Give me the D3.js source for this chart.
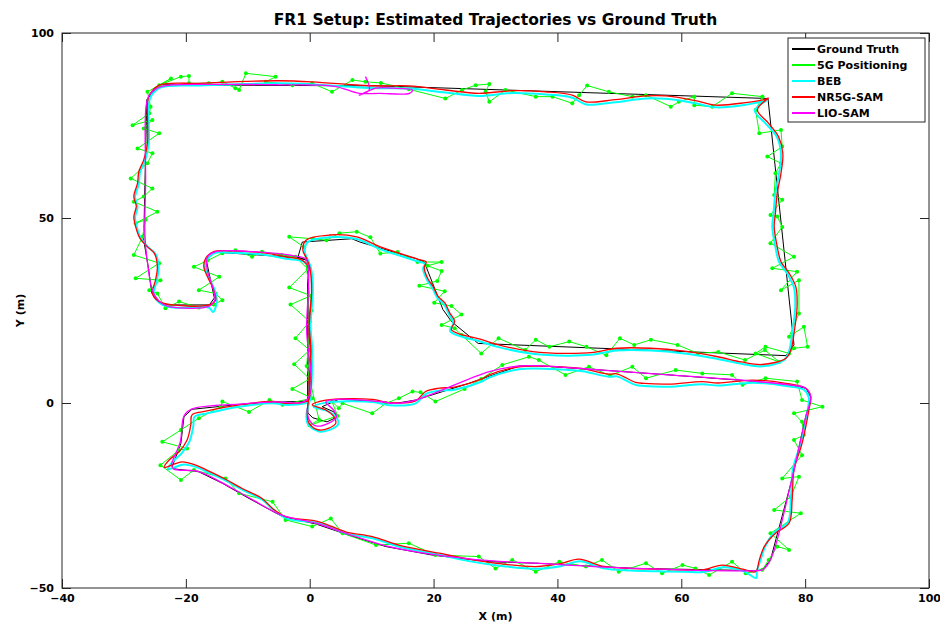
<!DOCTYPE html>
<html>
<head>
<meta charset="utf-8">
<script src="https://cdn.jsdelivr.net/npm/d3@7"></script>
<style>
  body { margin: 0; background: #ffffff; }
  text { font-family: "DejaVu Sans", sans-serif; font-weight: bold; fill: #000; }
</style>
</head>
<body>
<div id="chart"></div>
<script>
// Axis ticks
const xTicks = [-40, -20, 0, 20, 40, 60, 80, 100];
const yTicks = [-50, 0, 50, 100];

// Legend entries (plot order)
const seriesNames = ["Ground Truth", "5G Positioning", "BEB", "NR5G-SAM", "LIO-SAM"];
const seriesColors = ["#000000", "#00ff00", "#00ffff", "#ff0000", "#ff00ff"];

// Ground truth path [x, y] in metres
const groundTruth = [
  [74.0, 82.3], [11.2, 85.7], [-24.3, 86.0], [-26.3, 82.0], [-26.6, 60.0], [-26.8, 44.0],
  [-26.0, 36.0], [-25.5, 29.7], [-23.8, 26.5], [-16.2, 26.5], [-15.4, 28.4], [-16.7, 38.6],
  [-15.4, 40.8], [-1.9, 39.3], [-0.3, 38.5], [-0.3, 0.5], [-6.0, 0.2], [-11.4, -0.4],
  [-19.0, -1.7], [-20.3, -3.7], [-20.8, -10.9], [-22.2, -17.2], [-21.9, -17.8], [-17.9, -18.6],
  [-14.1, -21.7], [-9.8, -25.8], [-4.4, -30.7], [1.0, -32.7], [6.3, -35.7], [12.3, -38.8],
  [19.8, -41.1], [29.0, -42.9], [36.5, -43.3], [52.6, -44.7], [72.0, -45.3], [73.1, -45.1],
  [74.4, -42.4], [77.7, -21.7], [80.1, -3.7], [80.9, 1.7], [80.1, 4.0], [77.4, 4.9],
  [71.5, 5.9], [58.0, 7.6], [47.2, 8.9], [36.5, 10.1], [33.8, 10.0], [25.7, 5.3],
  [17.1, 0.8], [13.9, -0.1], [11.2, 0.4], [4.7, 1.0], [2.0, -1.0], [3.9, -2.4],
  [4.4, -3.8], [2.8, -5.1], [0.5, -4.0], [-0.3, -2.7], [-0.3, 38.5], [-1.9, 39.4],
  [-1.2, 43.5], [6.8, 44.4], [8.1, 43.5], [17.4, 38.9], [18.5, 38.1], [21.5, 25.3],
  [22.9, 22.0], [27.2, 16.1], [76.9, 12.8], [78.2, 15.7], [74.0, 82.3]
];

// 5G positioning fixes
const fiveG = [
  [73.1, 82.8], [68.2, 83.7], [65.0, 80.1], [62.1, 80.5], [62.1, 82.8], [59.6, 81.4],
  [58.3, 80.1], [54.3, 83.2], [52.1, 82.8], [48.3, 84.1], [44.8, 85.8], [43.5, 83.2],
  [42.4, 81.0], [39.2, 82.8], [36.5, 82.8], [31.6, 84.6], [29.0, 81.4], [28.4, 84.1],
  [29.0, 86.2], [26.8, 85.9], [24.6, 84.6], [21.9, 82.3], [16.0, 84.8], [11.5, 86.5],
  [9.0, 86.8], [6.9, 87.3], [3.6, 84.1], [0.4, 86.4], [-2.8, 85.9], [-7.1, 86.8],
  [-5.5, 88.2], [-10.3, 89.1], [-11.4, 84.6], [-12.0, 85.1], [-14.1, 86.8], [-16.3, 86.4],
  [-19.5, 86.4], [-19.5, 88.4], [-20.8, 88.2], [-24.3, 85.9], [-22.4, 87.7], [-26.2, 84.1],
  [-25.7, 80.1], [-25.9, 78.3], [-28.6, 75.1], [-25.4, 76.5], [-26.8, 74.2], [-24.3, 72.9],
  [-27.8, 68.8], [-25.4, 67.5], [-26.2, 64.8], [-28.9, 60.7], [-25.4, 58.0], [-26.8, 55.8],
  [-28.4, 54.4], [-24.6, 51.7], [-28.1, 48.6], [-26.5, 49.5], [-27.0, 44.9], [-28.4, 40.0],
  [-24.3, 37.8], [-28.1, 33.7], [-24.1, 33.2], [-25.9, 30.5], [-24.6, 29.6], [-23.3, 25.6],
  [-21.1, 27.4], [-17.9, 25.8], [-15.5, 26.6], [-14.1, 27.8], [-15.2, 29.6], [-17.9, 30.5],
  [-14.6, 34.1], [-18.7, 36.8], [-16.5, 38.5], [-14.1, 40.5], [-12.0, 41.3], [-9.3, 39.5],
  [-7.7, 40.9], [-4.5, 40.0], [-2.3, 39.5], [-0.3, 36.2], [-3.3, 31.2], [0.2, 29.0],
  [-3.1, 26.6], [0.0, 22.0], [-2.3, 17.5], [0.0, 14.3], [-2.5, 10.5], [0.0, 6.5],
  [-2.8, 3.8], [0.4, 1.3], [-4.4, -0.5], [-6.5, 0.8], [-9.8, -2.4], [-14.1, 0.4],
  [-14.4, -1.0], [-17.9, -4.1], [-20.8, -7.3], [-23.8, -10.5], [-19.8, -12.3], [-21.1, -12.7],
  [-24.1, -16.8], [-20.8, -20.8], [-18.7, -18.1], [-13.6, -20.4], [-11.4, -24.4], [-6.0, -26.7],
  [-3.9, -31.6], [0.4, -33.4], [3.4, -31.2], [5.3, -35.2], [10.7, -38.4], [16.0, -37.9],
  [20.3, -41.1], [27.3, -41.5], [30.0, -44.7], [32.7, -42.4], [36.5, -45.6], [40.3, -42.9],
  [44.6, -44.2], [47.2, -42.4], [49.9, -45.6], [54.3, -43.3], [56.9, -46.0], [60.2, -43.8],
  [62.3, -44.7], [64.5, -46.5], [68.2, -42.9], [70.4, -46.0], [73.1, -45.1], [74.1, -42.4],
  [75.5, -38.8], [77.4, -39.7], [74.4, -35.2], [79.3, -29.8], [75.0, -28.9], [77.7, -25.3],
  [79.0, -19.9], [76.3, -20.4], [79.5, -14.1], [78.2, -10.0], [79.8, -8.6], [79.5, -5.1],
  [78.2, -2.8], [82.8, -1.0], [79.5, 0.8], [78.7, 5.8], [73.6, 6.7], [69.9, 4.9],
  [68.2, 7.6], [63.4, 8.0], [59.1, 8.9], [54.3, 6.7], [52.1, 9.8], [48.5, 7.4],
  [45.1, 9.8], [41.3, 7.6], [37.0, 11.6], [35.4, 12.5], [31.1, 10.3], [27.7, 6.5],
  [25.0, 3.8], [20.3, 0.4], [17.9, 2.9], [16.6, 3.1], [14.4, 1.3], [12.3, -0.1],
  [10.1, -2.8], [5.3, -0.1], [4.7, -1.4], [3.6, 0.4], [4.5, -3.5], [0.0, -6.0],
  [1.5, -4.5], [-0.5, 10.0], [0.3, 25.0], [-0.9, 42.1], [-3.3, 44.9], [0.5, 44.4],
  [2.7, 44.0], [4.8, 45.9], [7.6, 46.3], [9.8, 44.8], [11.4, 40.4], [14.2, 40.8],
  [17.4, 38.1], [21.3, 38.1], [19.0, 37.1], [21.3, 35.7], [20.6, 33.0], [17.7, 31.7],
  [21.8, 30.2], [20.1, 27.1], [22.9, 26.2], [24.5, 23.9], [21.3, 21.1], [23.4, 20.2],
  [24.5, 18.4], [27.7, 13.4], [30.5, 17.5], [34.8, 14.3], [36.5, 17.1], [38.7, 15.2],
  [41.9, 16.6], [44.7, 15.2], [47.9, 12.9], [50.1, 17.5], [52.4, 15.7], [55.1, 17.1],
  [59.4, 15.7], [62.7, 13.4], [66.0, 13.8], [70.3, 11.6], [73.5, 14.3], [75.8, 11.1],
  [72.0, 13.4], [73.6, 15.2], [77.4, 13.4], [78.2, 14.8], [80.4, 15.2], [79.8, 20.6],
  [77.4, 17.9], [79.0, 24.2], [79.0, 33.2], [76.1, 30.5], [78.7, 35.5], [74.7, 36.4],
  [78.2, 39.5], [74.4, 43.2], [76.3, 47.6], [75.5, 50.4], [74.4, 50.8], [76.3, 54.9],
  [75.0, 56.2], [75.2, 62.1], [76.1, 64.8], [73.9, 66.6], [76.3, 69.3], [76.1, 73.8],
  [72.6, 72.9], [72.0, 79.2], [73.1, 82.8]
];

// BEB estimate
const beb = [
  [73.8, 81.8], [70.4, 80.6], [65.6, 79.9], [62.3, 81.0], [57.5, 82.2], [54.3, 82.3],
  [48.9, 81.2], [44.6, 80.7], [42.4, 82.5], [38.1, 83.4], [32.7, 83.8], [27.3, 83.0],
  [21.9, 83.9], [16.0, 85.0], [11.2, 85.1], [8.0, 85.3], [0.4, 86.1], [-5.0, 86.4],
  [-12.5, 86.1], [-17.9, 85.8], [-24.0, 85.3], [-25.6, 83.0], [-26.0, 80.5], [-26.0, 70.0],
  [-26.6, 65.5], [-27.4, 62.3], [-27.6, 59.2], [-28.2, 55.6], [-27.8, 53.0], [-28.2, 50.2],
  [-27.9, 47.4], [-27.2, 44.3], [-26.0, 42.0], [-24.9, 40.3], [-24.4, 36.6], [-24.7, 33.0],
  [-25.2, 29.2], [-24.0, 26.8], [-22.0, 25.8], [-16.3, 25.8], [-15.6, 24.6], [-15.0, 27.5],
  [-15.3, 30.3], [-16.3, 34.0], [-16.9, 36.6], [-16.6, 38.8], [-15.3, 40.5], [-12.5, 40.6],
  [-7.1, 40.0], [-3.9, 39.0], [-1.0, 38.2], [0.2, 35.8], [0.5, 30.0], [0.1, 22.0],
  [0.4, 14.0], [0.1, 6.2], [0.0, 0.6], [-3.3, -0.5], [-6.0, -0.1], [-11.4, -1.0],
  [-16.6, -2.8], [-18.6, -3.7], [-18.8, -6.2], [-19.4, -10.3], [-20.7, -13.6], [-22.2, -16.0],
  [-22.9, -17.9], [-20.3, -16.6], [-18.2, -17.4], [-16.6, -18.6], [-13.4, -21.1], [-10.7, -23.6],
  [-7.5, -26.3], [-5.8, -29.0], [-3.7, -31.2], [1.7, -32.6], [6.0, -35.3], [10.3, -36.6],
  [14.6, -38.9], [21.1, -41.1], [25.9, -42.8], [31.3, -44.1], [36.7, -44.8], [40.5, -44.1],
  [43.7, -42.8], [47.4, -44.7], [51.8, -45.3], [56.1, -45.5], [60.4, -45.6], [63.6, -45.7],
  [66.8, -44.4], [70.1, -45.5], [72.1, -47.3], [72.2, -45.6], [72.8, -42.4], [73.6, -38.6],
  [75.0, -35.0], [77.2, -32.3], [77.7, -26.0], [78.0, -18.0], [79.3, -10.8], [80.4, -1.9],
  [80.6, 1.5], [79.8, 3.6], [76.9, 4.6], [71.5, 5.5], [65.9, 4.7], [63.4, 5.1],
  [58.0, 4.4], [54.0, 4.6], [52.6, 4.9], [49.6, 7.2], [48.3, 7.1], [44.1, 8.6],
  [41.9, 8.9], [38.7, 9.2], [33.8, 9.1], [29.0, 6.9], [27.8, 5.8], [23.4, 3.6],
  [20.9, 3.3], [18.7, 2.4], [17.1, -0.1], [12.8, -0.6], [10.1, 0.3], [2.6, 0.1],
  [0.6, -1.0], [2.9, -2.2], [4.3, -3.9], [4.6, -5.7], [3.3, -7.2], [1.5, -7.7],
  [-0.3, -5.7], [-0.5, -2.8], [0.0, 0.8], [0.4, 10.0], [0.1, 20.0], [0.5, 30.0],
  [0.2, 36.5], [-0.4, 39.0], [-0.8, 41.0], [-0.4, 43.4], [3.2, 44.8], [7.6, 44.3],
  [11.4, 41.6], [17.4, 38.3], [18.6, 37.6], [18.3, 36.4], [19.0, 33.1], [19.8, 31.1],
  [20.6, 28.5], [21.7, 26.6], [22.5, 24.0], [23.2, 21.6], [22.7, 19.4], [27.8, 16.5],
  [30.5, 15.1], [36.0, 13.3], [41.4, 12.8], [45.8, 13.1], [49.6, 14.2], [55.0, 14.2],
  [60.5, 13.4], [65.9, 11.9], [69.7, 10.6], [73.0, 9.9], [76.6, 11.6], [77.4, 14.0],
  [77.9, 18.8], [78.4, 26.0], [78.2, 31.2], [77.1, 35.0], [75.8, 38.1], [75.2, 42.2],
  [74.7, 47.6], [74.9, 51.3], [75.2, 56.7], [75.8, 62.1], [76.1, 67.5], [75.4, 72.0],
  [73.6, 75.6], [71.9, 79.0], [73.8, 81.8]
];

// NR5G-SAM estimate
const nr5gSam = [
  [74.1, 82.4], [73.6, 82.1], [70.4, 81.2], [65.6, 80.5], [62.3, 81.7], [57.5, 83.0],
  [54.3, 83.0], [48.9, 81.9], [44.6, 81.4], [42.4, 83.2], [38.1, 84.1], [32.7, 84.4],
  [27.3, 83.7], [21.9, 84.6], [16.0, 85.7], [11.2, 85.7], [8.0, 85.9], [0.4, 86.8],
  [-5.0, 87.1], [-12.5, 86.8], [-17.9, 86.4], [-24.3, 85.9], [-25.9, 83.2], [-26.2, 81.0],
  [-26.2, 70.2], [-26.8, 65.7], [-27.6, 62.5], [-27.8, 59.4], [-28.4, 55.8], [-28.0, 53.2],
  [-28.4, 50.4], [-28.1, 47.6], [-27.4, 44.5], [-26.2, 42.2], [-25.1, 40.5], [-24.6, 36.8],
  [-24.9, 33.2], [-25.4, 29.6], [-24.3, 27.4], [-22.2, 26.5], [-16.3, 26.5], [-15.2, 27.8],
  [-15.5, 30.5], [-16.5, 34.1], [-17.1, 36.8], [-16.8, 39.1], [-15.5, 40.9], [-12.5, 41.1],
  [-7.1, 40.5], [-3.9, 39.5], [-1.2, 38.6], [0.0, 36.0], [0.3, 30.0], [-0.1, 22.0],
  [0.2, 14.0], [-0.1, 6.2], [-0.2, 0.8], [-3.3, -0.1], [-6.0, 0.4], [-11.4, -0.5],
  [-16.8, -2.2], [-19.0, -3.2], [-19.2, -5.9], [-19.8, -10.0], [-21.1, -13.2], [-22.7, -15.4],
  [-23.5, -17.4], [-20.6, -15.9], [-18.4, -16.8], [-16.8, -18.0], [-13.6, -20.6], [-10.9, -23.1],
  [-7.7, -25.8], [-6.0, -28.5], [-3.9, -30.7], [1.5, -32.1], [5.8, -34.8], [10.1, -36.1],
  [14.4, -38.4], [20.9, -40.6], [25.7, -42.2], [31.1, -43.5], [36.5, -44.2], [40.3, -43.5],
  [43.5, -42.2], [47.2, -44.1], [51.6, -44.7], [55.9, -44.9], [60.2, -45.1], [63.4, -45.1],
  [66.6, -43.8], [69.9, -44.9], [72.0, -45.6], [72.6, -42.4], [73.4, -38.8], [75.2, -35.2],
  [77.4, -32.5], [77.9, -26.2], [78.2, -18.1], [79.5, -10.9], [80.6, -1.9], [80.9, 1.7],
  [80.1, 4.0], [76.9, 5.3], [71.5, 6.2], [65.9, 5.4], [63.4, 5.8], [58.0, 5.1],
  [54.0, 5.3], [52.6, 5.6], [49.6, 7.9], [48.3, 7.8], [44.1, 9.3], [41.9, 9.6],
  [38.7, 9.9], [33.8, 9.8], [29.0, 7.6], [27.8, 6.5], [23.4, 4.3], [20.9, 4.0],
  [18.7, 3.1], [17.1, 0.6], [12.8, 0.1], [10.1, 1.0], [2.6, 0.8], [0.4, -0.5],
  [2.6, -1.9], [3.9, -3.7], [4.2, -5.5], [3.1, -6.8], [1.5, -7.3], [-0.1, -5.5],
  [-0.4, -2.8], [-0.2, 0.8], [0.2, 10.0], [-0.1, 20.0], [0.3, 30.0], [0.0, 36.7],
  [-0.6, 39.4], [-1.1, 41.2], [-0.6, 44.0], [3.2, 45.4], [7.6, 44.9], [11.4, 42.2],
  [17.4, 38.9], [18.8, 38.1], [18.5, 36.7], [19.1, 33.5], [19.9, 31.6], [20.7, 28.9],
  [21.8, 27.1], [22.6, 24.4], [23.4, 22.1], [22.9, 19.8], [27.8, 17.1], [30.5, 15.7],
  [36.0, 13.9], [41.4, 13.4], [45.8, 13.7], [49.6, 14.8], [55.0, 14.8], [60.5, 14.0],
  [65.9, 12.5], [69.7, 11.1], [73.0, 10.4], [76.9, 12.1], [77.7, 14.3], [78.2, 18.8],
  [78.7, 26.0], [78.5, 31.4], [77.4, 35.1], [76.1, 38.2], [75.5, 42.2], [75.0, 47.6],
  [75.2, 51.3], [75.5, 56.7], [76.1, 62.1], [76.4, 67.5], [75.7, 72.0], [74.1, 75.6],
  [72.3, 79.2], [74.1, 82.4]
];

// LIO-SAM estimate
const lioSam = [
  [9.0, 88.2], [9.6, 84.6], [8.0, 83.2], [10.7, 85.1], [13.3, 85.1], [16.6, 84.6],
  [16.1, 83.7], [11.2, 83.7], [8.0, 83.7], [4.0, 85.6], [-5.0, 86.0], [-15.0, 86.1],
  [-24.0, 85.5], [-25.8, 83.5], [-26.4, 80.5], [-26.5, 60.0], [-26.6, 45.0], [-26.2, 38.0],
  [-25.3, 30.0], [-23.8, 26.8], [-22.5, 26.0], [-16.3, 26.1], [-15.3, 28.0], [-16.6, 36.5],
  [-16.5, 39.5], [-15.2, 40.9], [-10.0, 41.0], [-2.0, 39.6], [-0.6, 38.8], [-0.5, 20.0],
  [-0.4, 1.0], [-6.0, 0.3], [-11.4, -0.3], [-19.0, -1.6], [-20.3, -3.5], [-20.9, -10.5],
  [-22.3, -16.7], [-22.0, -17.8], [-18.0, -18.5], [-14.1, -21.6], [-9.8, -25.6], [-4.4, -30.4],
  [1.0, -32.5], [6.3, -35.5], [12.3, -38.6], [19.8, -40.9], [29.0, -42.6], [36.5, -43.3],
  [52.6, -44.7], [72.0, -45.3], [73.1, -45.1], [74.4, -42.4], [77.7, -21.7], [80.1, -3.7],
  [80.9, 1.7], [80.1, 4.0], [77.4, 4.9], [71.5, 5.9], [58.0, 7.6], [47.2, 8.9],
  [36.5, 10.1], [33.8, 10.0], [29.0, 8.5], [17.1, 0.8], [13.9, -0.1], [11.2, 0.4],
  [4.7, 1.0], [2.6, 0.3], [3.9, -2.0], [4.3, -3.8], [3.0, -5.5], [1.0, -6.2],
  [-0.1, -4.5], [-0.4, -1.5]
];

const seriesData = [groundTruth, fiveG, beb, nr5gSam, lioSam];
const seriesWidths = [1, 1, 2, 1.3, 1.3];

// Dimensions and margins
const margin = { top: 33, right: 11, bottom: 35, left: 62 };
const width = 940 - margin.left - margin.right;
const height = 623 - margin.top - margin.bottom;

const svg = d3.select("#chart")
  .append("svg")
  .attr("width", 940)
  .attr("height", 623)
  .append("g")
  .attr("transform", `translate(${margin.left},${margin.top})`);

// Scales
const x = d3.scaleLinear().domain([-40, 100]).range([0, width]);
const y = d3.scaleLinear().domain([-50, 100]).range([height, 0]);

// Axes, MATLAB style: ticks pointing inward on all four sides
const tickLen = 9;
const axisColor = "#262626";

const bottomAxis = svg.append("g")
  .attr("transform", `translate(0,${height})`)
  .call(d3.axisBottom(x).tickValues(xTicks).tickSize(-tickLen).tickPadding(6));
const topAxis = svg.append("g")
  .call(d3.axisTop(x).tickValues(xTicks).tickSize(-tickLen).tickFormat(""));
const leftAxis = svg.append("g")
  .call(d3.axisLeft(y).tickValues(yTicks).tickSize(-tickLen).tickPadding(8));
const rightAxis = svg.append("g")
  .attr("transform", `translate(${width},0)`)
  .call(d3.axisRight(y).tickValues(yTicks).tickSize(-tickLen).tickFormat(""));

[bottomAxis, topAxis, leftAxis, rightAxis].forEach(function (g) {
  g.select(".domain").remove();
  g.selectAll(".tick line").attr("stroke", axisColor);
  g.selectAll(".tick text")
    .style("font-family", "'DejaVu Sans', sans-serif")
    .style("font-weight", "bold")
    .style("font-size", "11px")
    .attr("fill", "#000");
});

// Trajectories: ground truth and 5G are straight segments, the estimators are smooth
const straightLine = d3.line()
  .x(d => x(d[0]))
  .y(d => y(d[1]));

const smoothLine = d3.line()
  .x(d => x(d[0]))
  .y(d => y(d[1]))
  .curve(d3.curveCatmullRom.alpha(0.5));

seriesData.forEach(function (data, i) {
  svg.append("path")
    .datum(data)
    .attr("d", i < 2 ? straightLine : smoothLine)
    .attr("fill", "none")
    .attr("stroke", seriesColors[i])
    .attr("stroke-width", seriesWidths[i])
    .attr("stroke-linejoin", "round");

  // 5G fixes carry a small marker at each point
  if (i === 1) {
    svg.append("g")
      .selectAll("circle")
      .data(data)
      .enter()
      .append("circle")
      .attr("cx", d => x(d[0]))
      .attr("cy", d => y(d[1]))
      .attr("r", 2)
      .attr("fill", seriesColors[i]);
  }
});

// Box around the plot area
svg.append("rect")
  .attr("width", width)
  .attr("height", height)
  .attr("fill", "none")
  .attr("stroke", axisColor)
  .attr("stroke-width", 1);

// Title and axis labels
svg.append("text")
  .attr("x", width / 2)
  .attr("y", -8)
  .style("text-anchor", "middle")
  .style("font-size", "15.5px")
  .text("FR1 Setup: Estimated Trajectories vs Ground Truth");

svg.append("text")
  .attr("x", width / 2)
  .attr("y", height + 32)
  .style("text-anchor", "middle")
  .style("font-size", "11px")
  .text("X (m)");

svg.append("text")
  .attr("transform", "rotate(-90)")
  .attr("x", -height / 2)
  .attr("y", -38)
  .style("text-anchor", "middle")
  .style("font-size", "11px")
  .text("Y (m)");

// Legend
const legend = svg.append("g")
  .attr("transform", `translate(${width - 141},${5})`);

legend.append("rect")
  .attr("width", 137)
  .attr("height", 84)
  .attr("fill", "#fff")
  .attr("stroke", axisColor)
  .attr("stroke-width", 1);

seriesNames.forEach(function (name, i) {
  legend.append("line")
    .attr("x1", 4)
    .attr("x2", 27)
    .attr("y1", 11 + i * 16)
    .attr("y2", 11 + i * 16)
    .attr("stroke", seriesColors[i])
    .attr("stroke-width", 2);

  legend.append("text")
    .attr("x", 29)
    .attr("y", 11 + i * 16)
    .attr("dy", "0.35em")
    .style("font-size", "11px")
    .text(name);
});
</script>
</body>
</html>
